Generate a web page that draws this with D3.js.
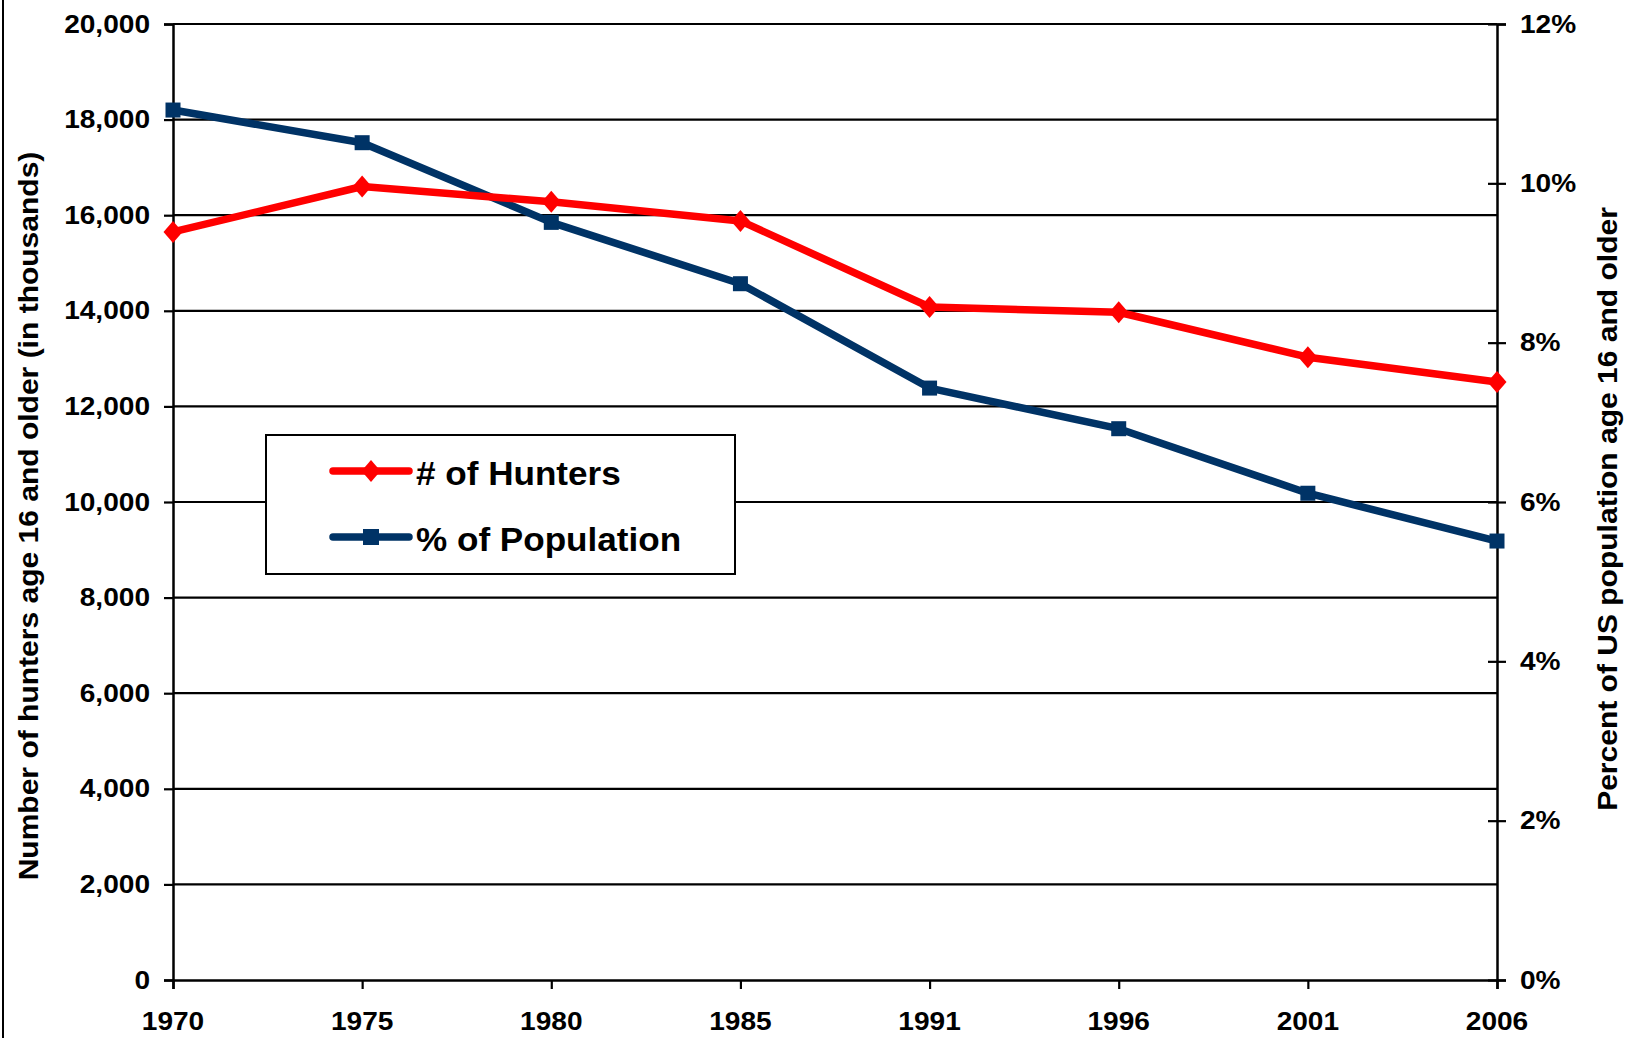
<!DOCTYPE html>
<html lang="en">
<head>
    <title>Hunters</title>
    <script src="https://d3js.org/d3.v7.min.js"></script>
    <style>
        body { margin: 0; background: #fff; }
        text {
            font-family: "Liberation Sans", Arial, sans-serif;
            font-weight: bold;
            fill: #000;
        }
    </style>
</head>
<body>

<script>
    const years = ["1970", "1975", "1980", "1985", "1991", "1996", "2001", "2006"];
    const hunters = [15650, 16600, 16280, 15880, 14080, 13970, 13030, 12510];   // thousands
    const percent = [10.92, 10.51, 9.51, 8.74, 7.43, 6.92, 6.11, 5.51];
    const leftTicks = [0, 2000, 4000, 6000, 8000, 10000, 12000, 14000, 16000, 18000, 20000];
    const rightTicks = [0, 2, 4, 6, 8, 10, 12];

    const W = 1631, H = 1038;
    const plotL = 173, plotR = 1497, plotT = 24, plotB = 980;
    const red = "#ff0000", navy = "#003366";
    const sx = 1.08;  // the original lettering is a bit wider than Liberation Sans

    const svg = d3.select("body").append("svg").attr("width", W).attr("height", H);

    const x = d3.scalePoint().domain(years).range([plotL, plotR]);
    const yL = d3.scaleLinear().domain([0, 20000]).range([plotB, plotT]);
    const yR = d3.scaleLinear().domain([0, 12]).range([plotB, plotT]);

    // frame edge on the left
    svg.append("line").attr("x1", 3).attr("x2", 3).attr("y1", 0).attr("y2", H)
        .attr("stroke", "#000").attr("stroke-width", 2);

    // gridlines
    svg.append("g").selectAll("line").data(leftTicks.slice(1)).join("line")
        .attr("x1", plotL).attr("x2", plotR)
        .attr("y1", d => yL(d)).attr("y2", d => yL(d))
        .attr("stroke", "#000").attr("stroke-width", 2.2);

    function stretched(g, xx, yy, txt, size, anchor, rot) {
        return g.append("text")
            .attr("transform", `translate(${xx},${yy}) rotate(${rot || 0}) scale(${sx},1)`)
            .attr("text-anchor", anchor)
            .attr("dominant-baseline", "central")
            .style("font-size", size + "px")
            .text(txt);
    }

    // axes
    const axL = svg.append("g").attr("transform", `translate(${plotL},0)`)
        .call(d3.axisLeft(yL).tickValues(leftTicks).tickSize(9).tickFormat(""));
    const axR = svg.append("g").attr("transform", `translate(${plotR},0)`)
        .call(d3.axisRight(yR).tickValues(rightTicks).tickSize(9).tickFormat(""));
    axR.selectAll(".tick line").attr("x1", -9);
    const axB = svg.append("g").attr("transform", `translate(0,${plotB})`)
        .call(d3.axisBottom(x).tickSize(9).tickFormat(""));
    [axL, axR, axB].forEach(a => {
        a.select(".domain").attr("stroke-width", 2.5);
        a.selectAll(".tick line").attr("stroke-width", 2.2);
    });

    const fmt = d3.format(",");
    const labs = svg.append("g");
    leftTicks.forEach(d => stretched(labs, 150, yL(d), fmt(d), 26, "end"));
    rightTicks.forEach(d => stretched(labs, 1520, yR(d), d + "%", 26, "start"));
    years.forEach(d => stretched(labs, x(d), 1021, d, 26, "middle"));

    // axis titles
    stretched(labs, 28, 516, "Number of hunters age 16 and older (in thousands)", 27.8, "middle", -90);
    stretched(labs, 1607, 509, "Percent of US population age 16 and older", 27.8, "middle", -90);

    // series
    const lineL = d3.line().x((d, i) => x(years[i])).y(d => yL(d));
    const lineR = d3.line().x((d, i) => x(years[i])).y(d => yR(d));

    svg.append("path").datum(percent).attr("d", lineR)
        .attr("fill", "none").attr("stroke", navy).attr("stroke-width", 7.5)
        .attr("stroke-linejoin", "round");
    svg.append("g").selectAll("rect").data(percent).join("rect")
        .attr("x", (d, i) => x(years[i]) - 7.5).attr("y", d => yR(d) - 7.5)
        .attr("width", 15).attr("height", 15).attr("fill", navy);

    const diamond = "M0,-11L9.5,0L0,11L-9.5,0Z";
    svg.append("path").datum(hunters).attr("d", lineL)
        .attr("fill", "none").attr("stroke", red).attr("stroke-width", 7.5)
        .attr("stroke-linejoin", "round");
    svg.append("g").selectAll("path").data(hunters).join("path")
        .attr("transform", (d, i) => `translate(${x(years[i])},${yL(d)})`)
        .attr("d", diamond).attr("fill", red);

    // legend
    const lg = svg.append("g");
    lg.append("rect").attr("x", 266).attr("y", 435).attr("width", 469).attr("height", 139)
        .attr("fill", "#fff").attr("stroke", "#000").attr("stroke-width", 2);
    const items = [
        {name: "# of Hunters", color: red, y: 471, mark: "d"},
        {name: "% of Population", color: navy, y: 537, mark: "s"}
    ];
    items.forEach(it => {
        lg.append("line").attr("x1", 333).attr("x2", 409).attr("y1", it.y).attr("y2", it.y)
            .attr("stroke", it.color).attr("stroke-width", 7.5).attr("stroke-linecap", "round");
        if (it.mark === "d") {
            lg.append("path").attr("transform", `translate(371,${it.y})`).attr("d", diamond).attr("fill", it.color);
        } else {
            lg.append("rect").attr("x", 363).attr("y", it.y - 8).attr("width", 16).attr("height", 16).attr("fill", it.color);
        }
        stretched(lg, 416, it.y + 2, it.name, 32.5, "start");
    });
</script>

</body>
</html>
